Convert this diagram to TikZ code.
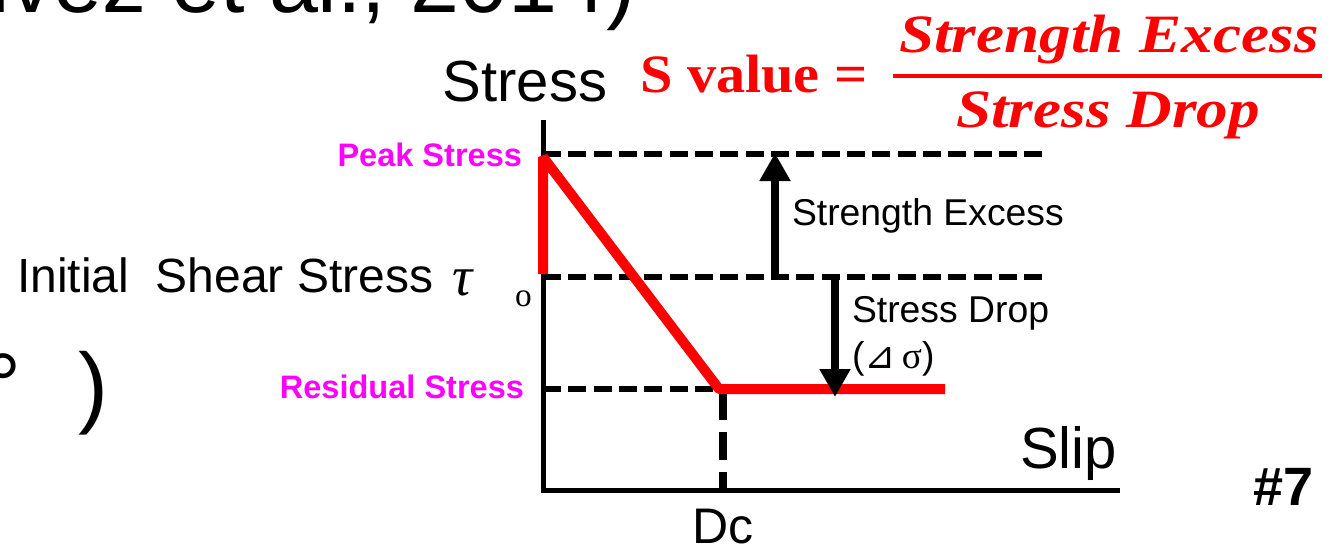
\documentclass[tikz,border=0pt]{standalone}
\usepackage{fontspec}
\setmainfont{Liberation Sans}
\newfontfamily\timesfont{Liberation Serif}
\newfontfamily\symfont{DejaVu Sans}
\usetikzlibrary{arrows.meta}
\definecolor{lawred}{RGB}{255,0,0}
\definecolor{tagpink}{RGB}{255,0,255}
\begin{document}
\begin{tikzpicture}[x=0.75pt,y=-0.75pt,
  lbl/.style={inner sep=0pt,outer sep=0pt},
  axisline/.style={line width=3.75pt,line join=miter},
  guide/.style={line width=4pt,dash pattern=on 13.5pt off 5.5pt},
  dcline/.style={line width=6pt,dash pattern=on 21pt off 9pt},
  lawline/.style={draw=lawred,line width=7.5pt,line join=bevel},
  jump/.style={line width=5.5pt,-{Triangle[length=21pt,width=22pt]}},
  tagtext/.style={lbl,text=tagpink,font=\fontsize{24.4pt}{28pt}\selectfont\bfseries},
  axistext/.style={lbl,font=\fontsize{43.5pt}{50pt}\selectfont},
  notetext/.style={lbl,font=\fontsize{28pt}{32pt}\selectfont},
  eqtext/.style={lbl,text=lawred}]
\useasboundingbox (0,0) rectangle (1332,547);

% fragments of the surrounding slide text
\node[lbl,anchor=base east,font=\fontsize{66pt}{70pt}\selectfont] (ref) at (636,12) {(Galvez et al., 2014)};
\node[lbl,anchor=base west,font=\fontsize{67.5pt}{70pt}\selectfont] (deg) at (-14,416) {°};
\node[lbl,anchor=base west,font=\fontsize{67.5pt}{70pt}\selectfont] (paren) at (78,416) {)};

% key points of the plot
\coordinate (ytop) at (543,120);
\coordinate (O) at (543,490);
\coordinate (xend) at (1120,490);
\coordinate (peakL) at (543,154);
\coordinate (peakR) at (1047,154);
\coordinate (initL) at (543,277);
\coordinate (initR) at (1047,277);
\coordinate (resL) at (543,389);
\coordinate (resR) at (720,389);
\coordinate (dcTop) at (723,392);
\coordinate (dcBot) at (723,490);
\coordinate (lawA) at (543,274);
\coordinate (lawB) at (543,157);
\coordinate (lawC) at (719,389);
\coordinate (lawD) at (945,389);
\coordinate (seBot) at (775,279);
\coordinate (seTop) at (775,153);
\coordinate (sdTop) at (835,275);
\coordinate (sdBot) at (835,397);

% guide lines
\draw[guide] (peakL) -- (peakR);
\draw[guide] (initL) -- (initR);
\draw[guide] (resL) -- (resR);
\draw[dcline] (dcTop) -- (dcBot);

% axes
\draw[axisline] (ytop) -- (O) -- (xend);

% slip-weakening law
\draw[lawline] (lawA) -- (lawB) -- (lawC) -- (lawD);

% strength excess and stress drop
\draw[jump] (seBot) -- (seTop);
\draw[jump] (sdTop) -- (sdBot);

% axis labels
\node[axistext,anchor=base] (ylab) at (525,101) {Stress};
\node[axistext,anchor=base west] (xlab) at (1020,468) {Slip};
\node[lbl,anchor=base,font=\fontsize{37.5pt}{42pt}\selectfont] (dc) at (723,543) {Dc};

% stress levels
\node[tagtext,anchor=base east] (peak) at (522,166) {Peak Stress};
\node[tagtext,anchor=base east] (res) at (524,398) {Residual Stress};
\node[lbl,anchor=base west,font=\fontsize{36pt}{40pt}\selectfont] (init) at (17,292) {Initial\ \ Shear Stress};
\node[lbl,anchor=base west,font=\fontsize{42pt}{46pt}\selectfont\timesfont\itshape] (tau) at (452,295) {τ};
\node[lbl,anchor=base west,font=\fontsize{25pt}{28pt}\selectfont\timesfont] (tausub) at (515,306) {o};

\node[notetext,anchor=base west] (exc) at (792,225) {Strength Excess};
\node[notetext,anchor=base west] (drop) at (852,322) {Stress Drop};
\node[notetext,anchor=base west] (dsig) at (852,368) {({\symfont ⊿}\,{\timesfont σ})};

% S value
\node[eqtext,anchor=base west,font=\fontsize{40.5pt}{44pt}\selectfont\timesfont\bfseries] (sval) at (640,92) {\scalebox{1.08}[1]{S value =}};
\draw[draw=lawred,line width=3.5pt] (893,76) -- (1322,76);
\node[eqtext,anchor=base,font=\fontsize{40.5pt}{44pt}\selectfont\timesfont\bfseries\itshape] (num) at (1109,52) {\scalebox{1.17}[1]{Strength Excess}};
\node[eqtext,anchor=base,font=\fontsize{40.5pt}{44pt}\selectfont\timesfont\bfseries\itshape] (den) at (1108,127) {\scalebox{1.17}[1]{Stress Drop}};

% slide number
\node[lbl,anchor=base east,font=\fontsize{40.5pt}{44pt}\selectfont\bfseries] (num7) at (1314,505) {\#7};
\end{tikzpicture}
\end{document}
